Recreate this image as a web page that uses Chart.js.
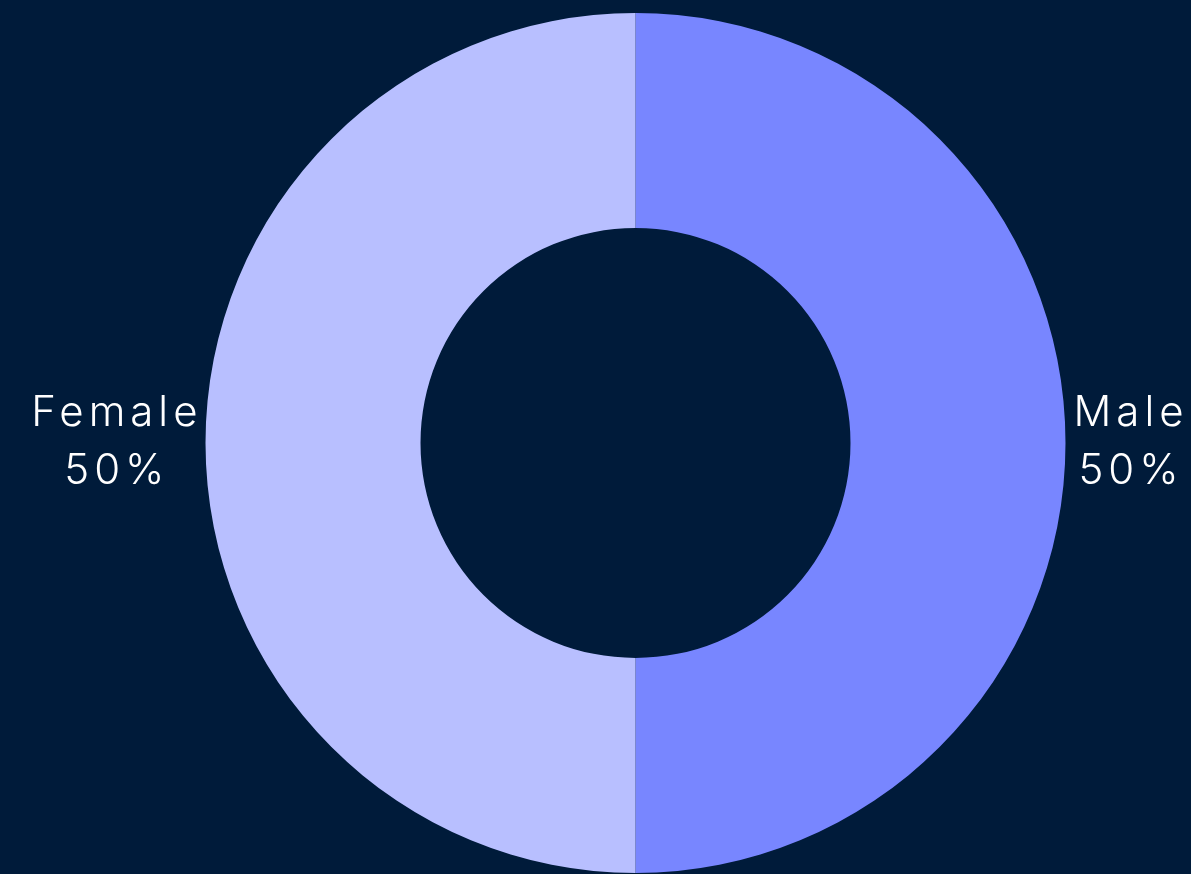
<!DOCTYPE html>
<html>
<head>
<meta charset="utf-8">
<script src="https://cdn.jsdelivr.net/npm/chart.js@4"></script>
<style>
  html, body { margin: 0; padding: 0; background: #001B3A; }
  #wrap { width: 1191px; height: 874px; position: relative; }
</style>
</head>
<body>
<div id="wrap"><canvas id="genderChart"></canvas></div>
<script>
// Gender split
const categories = ['Male', 'Female'];
const shares = [50, 50];
const sliceColors = ['#7886FF', '#B8BFFF'];

// labels outside the ring, two lines each
const outsideLabels = {
  id: 'outsideLabels',
  afterDraw(chart) {
    const ctx = chart.ctx;
    const meta = chart.getDatasetMeta(0);
    const total = shares.reduce((a, b) => a + b, 0);
    const spacing = 5;
    ctx.save();
    ctx.font = '300 42px Inter, "Open Sans", sans-serif';
    ctx.letterSpacing = spacing + 'px';
    ctx.fillStyle = '#FFFFFF';
    ctx.textAlign = 'center';
    ctx.textBaseline = 'middle';
    meta.data.forEach((arc, i) => {
      const mid = (arc.startAngle + arc.endAngle) / 2;
      const lines = [categories[i], Math.round(shares[i] / total * 100) + '%'];
      const w = Math.max(...lines.map(l => ctx.measureText(l).width)) - spacing;
      const r = arc.outerRadius + 8 + w / 2;
      const x = arc.x + Math.cos(mid) * r + spacing / 2;
      const y = arc.y + Math.sin(mid) * (arc.outerRadius + 8);
      ctx.fillText(lines[0], x, y - 30);
      ctx.fillText(lines[1], x, y + 28);
    });
    ctx.restore();
  }
};

new Chart(document.getElementById('genderChart'), {
  type: 'doughnut',
  data: {
    labels: categories,
    datasets: [{
      data: shares,
      backgroundColor: sliceColors,
      borderWidth: 0
    }]
  },
  options: {
    responsive: true,
    maintainAspectRatio: false,
    animation: false,
    cutout: '50%',
    layout: { padding: { top: 13, bottom: 1, left: 80, right: 0 } },
    plugins: {
      legend: { display: false },
      tooltip: { enabled: false }
    }
  },
  plugins: [outsideLabels]
});
</script>
</body>
</html>
